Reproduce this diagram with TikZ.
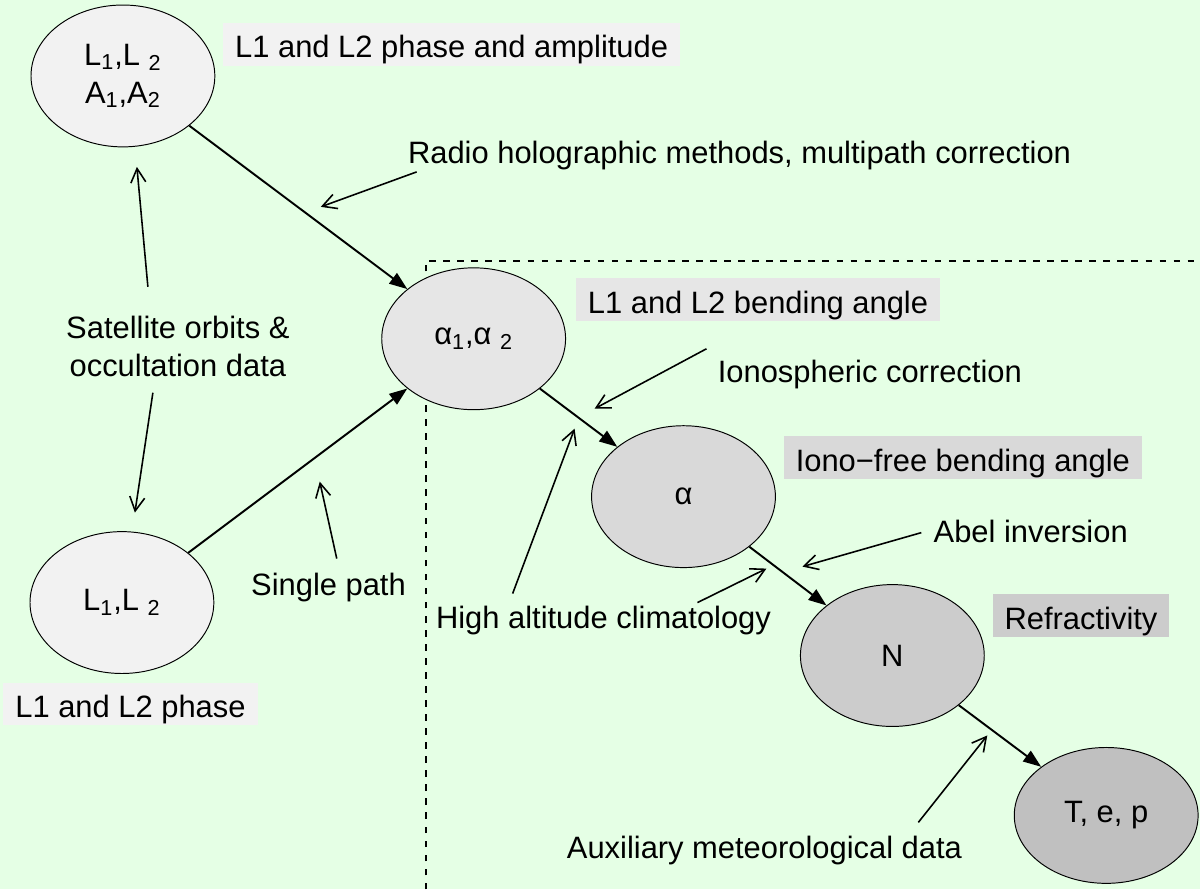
\documentclass[tikz,border=0pt]{standalone}
\usepackage{fontspec}
\setmainfont{Liberation Sans}
\usetikzlibrary{shapes.geometric,arrows.meta}
\definecolor{fond}{HTML}{E5FFE5}
\definecolor{grisA}{HTML}{F2F2F2}
\definecolor{grisB}{HTML}{E6E6E6}
\definecolor{grisC}{HTML}{D9D9D9}
\definecolor{grisD}{HTML}{CCCCCC}
\definecolor{grisE}{HTML}{C0C0C0}

\begin{document}
\begin{tikzpicture}[x=0.02cm,y=-0.02cm]
    \fontsize{17.6}{21.5}\selectfont
    % Styles
    \tikzstyle{fleche}=[-{Triangle[length=3.6mm,width=2.6mm]},line width=1.1pt]
    \tikzstyle{renvoi}=[-{Straight Barb[length=2.8mm,width=3mm]},line width=0.9pt]
    \tikzstyle{noeud}=[ellipse,draw,line width=0.55pt,minimum width=3.68cm,minimum height=2.84cm,inner sep=0pt,align=center]
    \tikzstyle{etiquette}=[anchor=west,inner xsep=0.24cm,inner ysep=0pt,minimum height=0.86cm,text height=0.6cm,text depth=0.06cm]
    \tikzstyle{texte}=[anchor=base west,inner sep=0pt]
    % Fond et cadre pointille
    \fill[fond] (0,0) rectangle (1201,890);
    \coordinate (CadreA) at (426,890);
    \coordinate (CadreB) at (426,261);
    \coordinate (CadreC) at (1201,261);
    \draw[dash pattern=on 3.8pt off 4.2pt,line width=1pt] (CadreA) -- (CadreB) -- (CadreC);
    % Noeuds
    \node[noeud,fill=grisA] (LA) at (123,76) {L\textsubscript{1},L \textsubscript{2}\\A\textsubscript{1},A\textsubscript{2}};
    \node[noeud,fill=grisA] (L) at (122,603) {L\textsubscript{1},L \textsubscript{2}};
    \node[noeud,fill=grisB] (AlphaDeux) at (474,339) {α\textsubscript{1},α \textsubscript{2}};
    \node[noeud,fill=grisC] (Alpha) at (684,497) {α};
    \node[noeud,fill=grisD] (N) at (893,656) {N};
    \node[noeud,fill=grisE,minimum height=2.72cm] (Tep) at (1107,816) {T, e, p};
    % Etiquettes grises
    \node[etiquette,fill=grisA] (EtiqLA) at (223,44.5) {L1 and L2 phase and amplitude};
    \node[etiquette,fill=grisA] (EtiqL) at (3,704.5) {L1 and L2 phase};
    \node[etiquette,fill=grisB] (EtiqAlphaDeux) at (576,300) {L1 and L2 bending angle};
    \node[etiquette,fill=grisC] (EtiqAlpha) at (784,458) {Iono−free bending angle};
    \node[etiquette,fill=grisD] (EtiqN) at (993,616) {Refractivity};
    % Textes
    \node[anchor=north,inner sep=0pt,align=center] (Orbites) at (178,316) {Satellite orbits \&\\occultation data};
    \node[texte] (Radio) at (408,164) {Radio holographic methods, multipath correction};
    \node[texte] (Simple) at (251,596) {Single path};
    \node[texte] (Iono) at (718,383) {Ionospheric correction};
    \node[texte] (Haute) at (436,629) {High altitude climatology};
    \node[texte] (Abel) at (934,543) {Abel inversion};
    \node[texte] (Aux) at (567,859) {Auxiliary meteorological data};
    % Arcs
    \draw[fleche] (LA) -- (AlphaDeux);
    \draw[fleche] (L) -- (AlphaDeux);
    \draw[fleche] (AlphaDeux) -- (Alpha);
    \draw[fleche] (Alpha) -- (N);
    \draw[fleche] (N) -- (Tep);
    % Renvois
    \coordinate (OrbA) at (148,287);
    \coordinate (OrbB) at (137,167);
    \coordinate (OrbC) at (153,393);
    \coordinate (OrbD) at (135,513);
    \coordinate (RadioA) at (417,172);
    \coordinate (RadioB) at (321,207);
    \coordinate (SimpleA) at (337,559);
    \coordinate (SimpleB) at (320,482);
    \coordinate (IonoA) at (707,349);
    \coordinate (IonoB) at (595,409);
    \coordinate (HauteA) at (513,594);
    \coordinate (HauteB) at (575,429);
    \coordinate (HauteC) at (698,603);
    \coordinate (HauteD) at (767,569);
    \coordinate (AbelA) at (922,533);
    \coordinate (AbelB) at (803,567);
    \coordinate (AuxA) at (919,823);
    \coordinate (AuxB) at (988,736);
    \draw[renvoi] (OrbA) -- (OrbB);
    \draw[renvoi] (OrbC) -- (OrbD);
    \draw[renvoi] (RadioA) -- (RadioB);
    \draw[renvoi] (SimpleA) -- (SimpleB);
    \draw[renvoi] (IonoA) -- (IonoB);
    \draw[renvoi] (HauteA) -- (HauteB);
    \draw[renvoi] (HauteC) -- (HauteD);
    \draw[renvoi] (AbelA) -- (AbelB);
    \draw[renvoi] (AuxA) -- (AuxB);
\end{tikzpicture}
\end{document}
